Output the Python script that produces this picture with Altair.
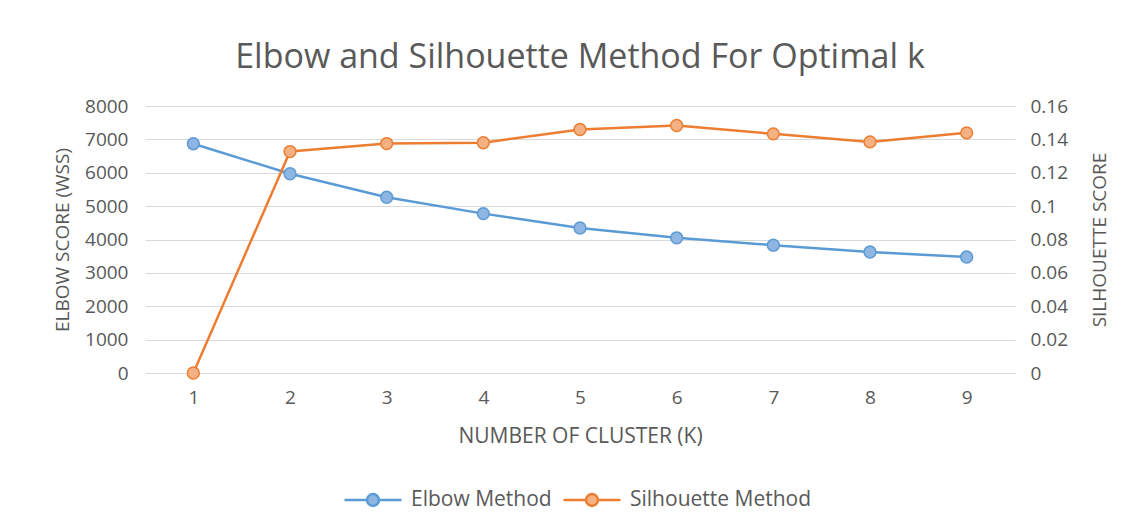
import altair as alt
import pandas as pd

# ---- data ----
k_values = [1, 2, 3, 4, 5, 6, 7, 8, 9]
elbow_wss = [6870, 5970, 5265, 4775, 4345, 4050, 3830, 3625, 3475]
silhouette_score = [0.0, 0.1327, 0.1375, 0.1380, 0.1459, 0.1483, 0.1433, 0.1385, 0.1439]
series_names = ["Elbow Method", "Silhouette Method"]
elbow_ticks = [0, 1000, 2000, 3000, 4000, 5000, 6000, 7000, 8000]
silhouette_ticks = [0, 0.02, 0.04, 0.06, 0.08, 0.1, 0.12, 0.14, 0.16]

df = pd.DataFrame({
    "k": k_values + k_values,
    "series": [series_names[0]] * len(k_values) + [series_names[1]] * len(k_values),
    "value": elbow_wss + silhouette_score,
})

FONT = "Open Sans"
GRAY = "#595959"
blue, orange = "#5B9BD5", "#ED7D31"
blue_fill, orange_fill = "#8FB5E2", "#F4B183"

stroke_scale = alt.Scale(domain=series_names, range=[blue, orange])
fill_scale = alt.Scale(domain=series_names, range=[blue_fill, orange_fill])

legend_symbol = ("M-1,0L-0.21,0M0.21,0L1,0"
                 "M-0.21,0A0.21,0.21 0 1,0 0.21,0A0.21,0.21 0 1,0 -0.21,0Z")
legend = alt.Legend(
    orient="none", legendX=198, legendY=364, direction="horizontal", title=None,
    symbolType=legend_symbol, symbolSize=3249, symbolStrokeWidth=2.5,
    labelFontSize=21, labelFont=FONT, labelColor=GRAY, labelOffset=8,
    columnPadding=6, labelLimit=300,
)

x_enc = alt.X(
    "k:O", scale=alt.Scale(type="point", padding=0.5),
    axis=alt.Axis(title="NUMBER OF CLUSTER (K)", labelAngle=0, ticks=False, domain=False,
                  labelPadding=15, titlePadding=18, grid=False, titleFontSize=21),
)

y_elbow = alt.Y(
    "value:Q", scale=alt.Scale(domain=[0, 8000], nice=False),
    axis=alt.Axis(title="ELBOW SCORE (WSS)", orient="left", values=elbow_ticks, format="d",
                  ticks=False, domain=False, grid=True, labelPadding=17, titlePadding=12),
)
y_sil = alt.Y(
    "value:Q", scale=alt.Scale(domain=[0, 0.16], nice=False),
    axis=alt.Axis(title="SILHOUETTE SCORE", orient="right", values=silhouette_ticks, format="~g",
                  ticks=False, domain=False, grid=False, labelPadding=15, titlePadding=42,
                  titleAngle=270),
)

stroke_enc = alt.Stroke("series:N", scale=stroke_scale, legend=legend)
fill_enc = alt.Fill("series:N", scale=fill_scale, legend=legend)

base_e = alt.Chart(df).transform_filter(alt.datum.series == series_names[0])
base_s = alt.Chart(df).transform_filter(alt.datum.series == series_names[1])

line_e = base_e.mark_line(strokeWidth=2.5).encode(x=x_enc, y=y_elbow, stroke=stroke_enc)
pts_e = base_e.mark_point(filled=True, size=140, strokeWidth=1.5, opacity=1).encode(
    x=x_enc, y=y_elbow, stroke=stroke_enc, fill=fill_enc)
line_s = base_s.mark_line(strokeWidth=2.5).encode(x=x_enc, y=y_sil, stroke=stroke_enc)
pts_s = base_s.mark_point(filled=True, size=140, strokeWidth=1.5, opacity=1).encode(
    x=x_enc, y=y_sil, stroke=stroke_enc, fill=fill_enc)

elbow_layer = alt.layer(line_e, pts_e)
sil_layer = alt.layer(line_s, pts_s)

chart = alt.layer(elbow_layer, sil_layer).resolve_scale(y="independent").properties(
    width=870, height=267,
    background="white",
    title=alt.Title("Elbow and Silhouette Method For Optimal k", fontSize=34, font=FONT,
                    fontWeight="normal", color=GRAY, anchor="middle", offset=22),
    autosize=alt.AutoSizeParams(type="none"),
    padding={"left": 137, "top": 98, "right": 112, "bottom": 145},
).configure_view(stroke=None).configure_axis(
    labelFont=FONT, labelFontSize=19, labelColor=GRAY,
    titleFont=FONT, titleFontSize=19, titleFontWeight="normal", titleColor=GRAY,
    gridColor="#D9D9D9", gridWidth=1.2,
)

chart.save("out.html", embed_options={"renderer": "svg", "actions": False})
